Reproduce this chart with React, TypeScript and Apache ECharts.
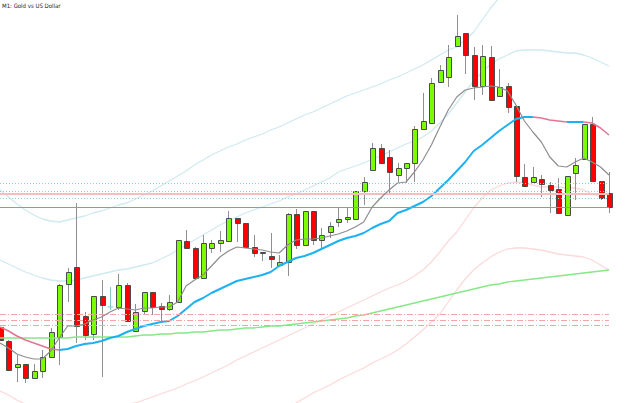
import React, { useEffect, useRef } from "react";
import * as echarts from "echarts";

const chartTitle = "M1: Gold vs US Dollar";

// candle OHLC (one entry per bar, left to right)
const opens = [
  1076, 1062, 1036, 1039, 1025, 1032, 1046, 1066, 1119, 1136,
  1087, 1069, 1107, 1096, 1096, 1118, 1072, 1092, 1111, 1097,
  1094, 1101, 1162, 1155, 1125, 1155, 1160, 1162, 1185, 1180,
  1156, 1150, 1147, 1138, 1141, 1189, 1158, 1192, 1163, 1171,
  1181, 1184, 1184, 1212, 1233, 1255, 1246, 1228, 1235, 1240,
  1274, 1280, 1321, 1326, 1357, 1370, 1348, 1317, 1346, 1307,
  1317, 1297, 1226, 1221, 1224, 1218, 1214, 1188, 1230, 1244,
  1279, 1222, 1210,
];
const closes = [
  1063, 1033, 1039, 1025, 1032, 1046, 1071, 1118, 1131, 1077,
  1068, 1107, 1098, 1096, 1118, 1082, 1091, 1111, 1096, 1094,
  1101, 1163, 1155, 1125, 1160, 1160, 1163, 1185, 1180, 1156,
  1150, 1151, 1144, 1141, 1189, 1158, 1192, 1163, 1168, 1177,
  1184, 1186, 1212, 1221, 1255, 1240, 1231, 1235, 1240, 1274,
  1282, 1320, 1333, 1346, 1367, 1348, 1317, 1347, 1303, 1316,
  1296, 1227, 1217, 1226, 1219, 1213, 1190, 1227, 1238, 1279,
  1222, 1205, 1196,
];
const highs = [
  1076, 1063, 1048, 1039, 1039, 1053, 1075, 1119, 1135, 1200,
  1091, 1107, 1123, 1116, 1129, 1120, 1099, 1111, 1111, 1100,
  1108, 1163, 1173, 1156, 1168, 1163, 1172, 1192, 1185, 1180,
  1168, 1151, 1170, 1148, 1190, 1194, 1192, 1192, 1175, 1181,
  1195, 1196, 1212, 1226, 1260, 1259, 1253, 1240, 1240, 1277,
  1310, 1325, 1338, 1358, 1388, 1370, 1356, 1358, 1357, 1334,
  1320, 1297, 1239, 1236, 1228, 1221, 1225, 1227, 1245, 1279,
  1286, 1222, 1231,
];
const lows = [
  1063, 1033, 1021, 1020, 1024, 1025, 1046, 1038, 1101, 1060,
  1063, 1063, 1026, 1093, 1093, 1082, 1071, 1088, 1088, 1081,
  1092, 1101, 1155, 1125, 1125, 1150, 1151, 1162, 1161, 1156,
  1146, 1142, 1135, 1137, 1127, 1154, 1158, 1158, 1155, 1165,
  1176, 1180, 1184, 1198, 1233, 1240, 1210, 1221, 1220, 1221,
  1274, 1280, 1321, 1316, 1356, 1329, 1303, 1308, 1303, 1307,
  1290, 1221, 1217, 1221, 1206, 1190, 1190, 1188, 1203, 1244,
  1222, 1203, 1190,
];

// indicators
const fastMA = [
  1060, 1055, 1049, 1046, 1044, 1044, 1052, 1065, 1077, 1077,
  1079, 1083, 1086, 1091, 1095, 1094, 1093, 1095, 1095, 1096,
  1096, 1101, 1117, 1123, 1128, 1137, 1146, 1152, 1156, 1155,
  1154, 1153, 1151, 1150, 1158, 1163, 1164, 1164, 1165, 1167,
  1169, 1172, 1176, 1181, 1196, 1205, 1213, 1220, 1221, 1231,
  1243, 1258, 1276, 1293, 1306, 1313, 1315, 1316, 1317, 1316,
  1312, 1298, 1282, 1271, 1261, 1246, 1237, 1236, 1241, 1245,
  1241, 1236, 1228,
];
const midMA = [
  1076, 1072, 1067, 1063, 1060, 1057, 1054, 1053, 1054, 1057,
  1059, 1060, 1062, 1065, 1067, 1071, 1074, 1077, 1079, 1081,
  1082, 1087, 1094, 1101, 1105, 1110, 1114, 1118, 1122, 1124,
  1126, 1128, 1131, 1137, 1141, 1145, 1147, 1150, 1154, 1158,
  1162, 1165, 1167, 1170, 1175, 1179, 1182, 1190, 1193, 1197,
  1201, 1207, 1215, 1223, 1232, 1241, 1252, 1258, 1265, 1272,
  1278, 1284, 1286, 1286, 1285, 1283, 1282, 1281, 1281, 1281,
  1280, 1275, 1268,
];
const midMAFallingRanges = [[0, 7], [63, 67], [69, 72]];
const slowMA = [
  1065, 1065, 1065, 1065, 1065, 1065, 1065, 1065, 1065, 1066,
  1066, 1066, 1066, 1066, 1066, 1066, 1067, 1068, 1068, 1069,
  1069, 1070, 1070, 1071, 1071, 1072, 1073, 1073, 1074, 1075,
  1075, 1076, 1077, 1077, 1078, 1079, 1080, 1081, 1082, 1083,
  1084, 1085, 1087, 1088, 1090, 1092, 1094, 1096, 1098, 1100,
  1102, 1104, 1106, 1108, 1110, 1112, 1114, 1116, 1118, 1119,
  1121, 1122, 1123, 1124, 1125, 1126, 1127, 1128, 1129, 1130,
  1131, 1132, 1133,
];
const upperOuter = [
  1213, 1206, 1199, 1193, 1188, 1184, 1182, 1181, 1183, 1185,
  1187, 1190, 1192, 1195, 1198, 1200, 1204, 1208, 1212, 1217,
  1222, 1227, 1232, 1238, 1243, 1248, 1252, 1256, 1259, 1263,
  1266, 1269, 1273, 1276, 1280, 1284, 1288, 1291, 1295, 1299,
  1303, 1307, 1310, 1313, 1316, 1319, 1323, 1326, 1330, 1334,
  1338, 1343, 1348, 1353, 1356, 1363, 1371, 1383, 1395, 1405,
];
const upperInner = [
  1143, 1139, 1135, 1131, 1128, 1125, 1123, 1122, 1122, 1123,
  1125, 1127, 1129, 1131, 1133, 1134, 1136, 1138, 1140, 1144,
  1148, 1153, 1158, 1163, 1168, 1173, 1178, 1182, 1186, 1190,
  1193, 1196, 1199, 1202, 1206, 1209, 1213, 1217, 1221, 1225,
  1231, 1234, 1237, 1240, 1244, 1247, 1251, 1255, 1259, 1262,
  1266, 1272, 1280, 1289, 1300, 1311, 1322, 1331, 1339, 1344,
  1348, 1352, 1353, 1353, 1353, 1352, 1351, 1350, 1350, 1348,
  1345, 1341, 1337,
];
const lowerInner = [
  1012, 1008, 1003, 999, 996, 994, 991, 989, 989, 991,
  993, 994, 995, 996, 997, 999, 1000, 1003, 1006, 1009,
  1012, 1015, 1019, 1022, 1026, 1030, 1034, 1038, 1043, 1047,
  1051, 1055, 1059, 1063, 1067, 1071, 1075, 1079, 1083, 1087,
  1091, 1095, 1099, 1103, 1107, 1111, 1115, 1118, 1122, 1127,
  1133, 1141, 1151, 1162, 1171, 1183, 1195, 1205, 1213, 1217,
  1220, 1221, 1220, 1218, 1216, 1216, 1216, 1215, 1215, 1213,
  1209, 1206, 1203,
];
const lowerOuterStart = 33;
const lowerOuter = [
  991, 996, 1000, 1005, 1010, 1014, 1018,
  1023, 1027, 1031, 1035, 1040, 1044, 1048, 1053, 1059, 1066,
  1073, 1081, 1089, 1101, 1113, 1124, 1133, 1140, 1146, 1151,
  1154, 1155, 1155, 1154, 1153, 1151, 1149, 1148, 1147, 1146,
  1143, 1138, 1133,
];

// horizontal price levels
const dottedLevels = [1220, 1211.5, 1204.5];
const pinkLevels = [1209.5];
const greenLevels = [1195.5];
const dashDotLevels = [1088.5, 1083, 1078];

const Y_MIN = 1000;
const Y_MAX = 1403;

function pts(arr: (number | null)[], start = 0) {
  return arr.map((v, i) => [i + start, v]);
}

export default function App() {
  const ref = useRef<HTMLDivElement>(null);
  useEffect(() => {
    if (!ref.current) return;
    const chart = echarts.init(ref.current, undefined, { renderer: "svg" });
    const candles = opens.map((o, i) => [i, o, closes[i], lows[i], highs[i]]);
    const isFalling = (i: number) => midMAFallingRanges.some(([a, b]) => i >= a && i <= b);
    const midPink = midMA.map((v, i) => [i, isFalling(i) ? v : null]);
    const midBlue = midMA.map((v, i) => {
      const inside = midMAFallingRanges.some(([a, b]) => i > a && i < b);
      return [i, inside ? null : v];
    });

    const lineBase = (data: any[], color: string, width: number, z: number) => ({
      type: "line",
      data,
      showSymbol: false,
      symbol: "none",
      silent: true,
      connectNulls: false,
      lineStyle: { color, width },
      z,
    });

    const ml = (vals: number[], color: string, type: any, width: number) =>
      vals.map((v) => ({ yAxis: v, lineStyle: { color, type, width } }));

    chart.setOption({
      animation: false,
      backgroundColor: "#ffffff",
      grid: { left: 0, right: 16, top: 0, bottom: 0 },
      xAxis: { type: "value", min: 0, max: 72, show: false },
      yAxis: { type: "value", min: Y_MIN, max: Y_MAX, show: false, scale: true },
      graphic: [
        {
          type: "text",
          left: 2,
          top: 2,
          z: 100,
          style: {
            text: chartTitle,
            fontSize: 6,
            fontFamily: "Liberation Sans Narrow, DejaVu Sans Condensed, Liberation Sans",
            fill: "#222222",
          },
        },
      ],
      series: [
        lineBase(pts(upperOuter), "#cfeaf0", 1.3, 1),
        lineBase(pts(upperInner), "#cfeaf0", 1.3, 1),
        lineBase(pts(lowerInner), "#fcdada", 1.3, 1),
        lineBase(pts(lowerOuter, lowerOuterStart), "#fcdada", 1.3, 1),
        {
          type: "line",
          data: [],
          silent: true,
          z: 2,
          markLine: {
            silent: true,
            symbol: "none",
            label: { show: false },
            animation: false,
            data: [
              ...ml(dottedLevels, "#8fcfd6", [1, 2], 1),
              ...ml(pinkLevels, "#f7bcbc", "solid", 2),
              ...ml(greenLevels, "#6fb46f", "solid", 1),
              ...ml(dashDotLevels, "#f4a6a6", [6, 2, 1, 2], 1),
            ],
          },
        },
        {
          type: "custom",
          z: 3,
          clip: false,
          data: candles,
          encode: { x: 0, y: [1, 2, 3, 4] },
          renderItem: (params: any, api: any) => {
            const idx = api.value(0);
            const o = api.value(1);
            const c = api.value(2);
            const lo = api.value(3);
            const hi = api.value(4);
            const pO = api.coord([idx, o]);
            const yC = api.coord([idx, c])[1];
            const yL = api.coord([idx, lo])[1];
            const yH = api.coord([idx, hi])[1];
            const cx = Math.round(pO[0]) + 0.5;
            const top = Math.min(pO[1], yC);
            const bot = Math.max(pO[1], yC);
            const doji = o === c;
            const children: any[] = [
              {
                type: "line",
                shape: { x1: cx, y1: yH, x2: cx, y2: yL },
                style: { stroke: doji ? "#8cc6c6" : "#8f8f8f", lineWidth: 1 },
              },
            ];
            if (doji) {
              children.push({
                type: "line",
                shape: { x1: cx - 3, y1: top, x2: cx + 3, y2: top },
                style: { stroke: "#8cc6c6", lineWidth: 1 },
              });
            } else {
              children.push({
                type: "rect",
                shape: {
                  x: cx - 2,
                  y: Math.round(top) + 0.5,
                  width: 5,
                  height: Math.max(1, Math.round(bot - top)),
                },
                style: {
                  fill: c > o ? "#7CFC00" : "#FF0000",
                  stroke: "#4a4a4a",
                  lineWidth: 1,
                },
              });
            }
            return { type: "group", children };
          },
        },
        lineBase(pts(slowMA), "#86e886", 1.3, 4),
        lineBase(midBlue, "#1cb2f2", 2, 4),
        lineBase(midPink, "#e27592", 1.5, 4),
        lineBase(pts(fastMA), "#8e8e8e", 1.2, 5),
      ],
    });
    return () => chart.dispose();
  }, []);
  return (
    <div
      ref={ref}
      style={{ position: "fixed", left: 0, top: 0, width: 625, height: 403, background: "#fff" }}
    />
  );
}
